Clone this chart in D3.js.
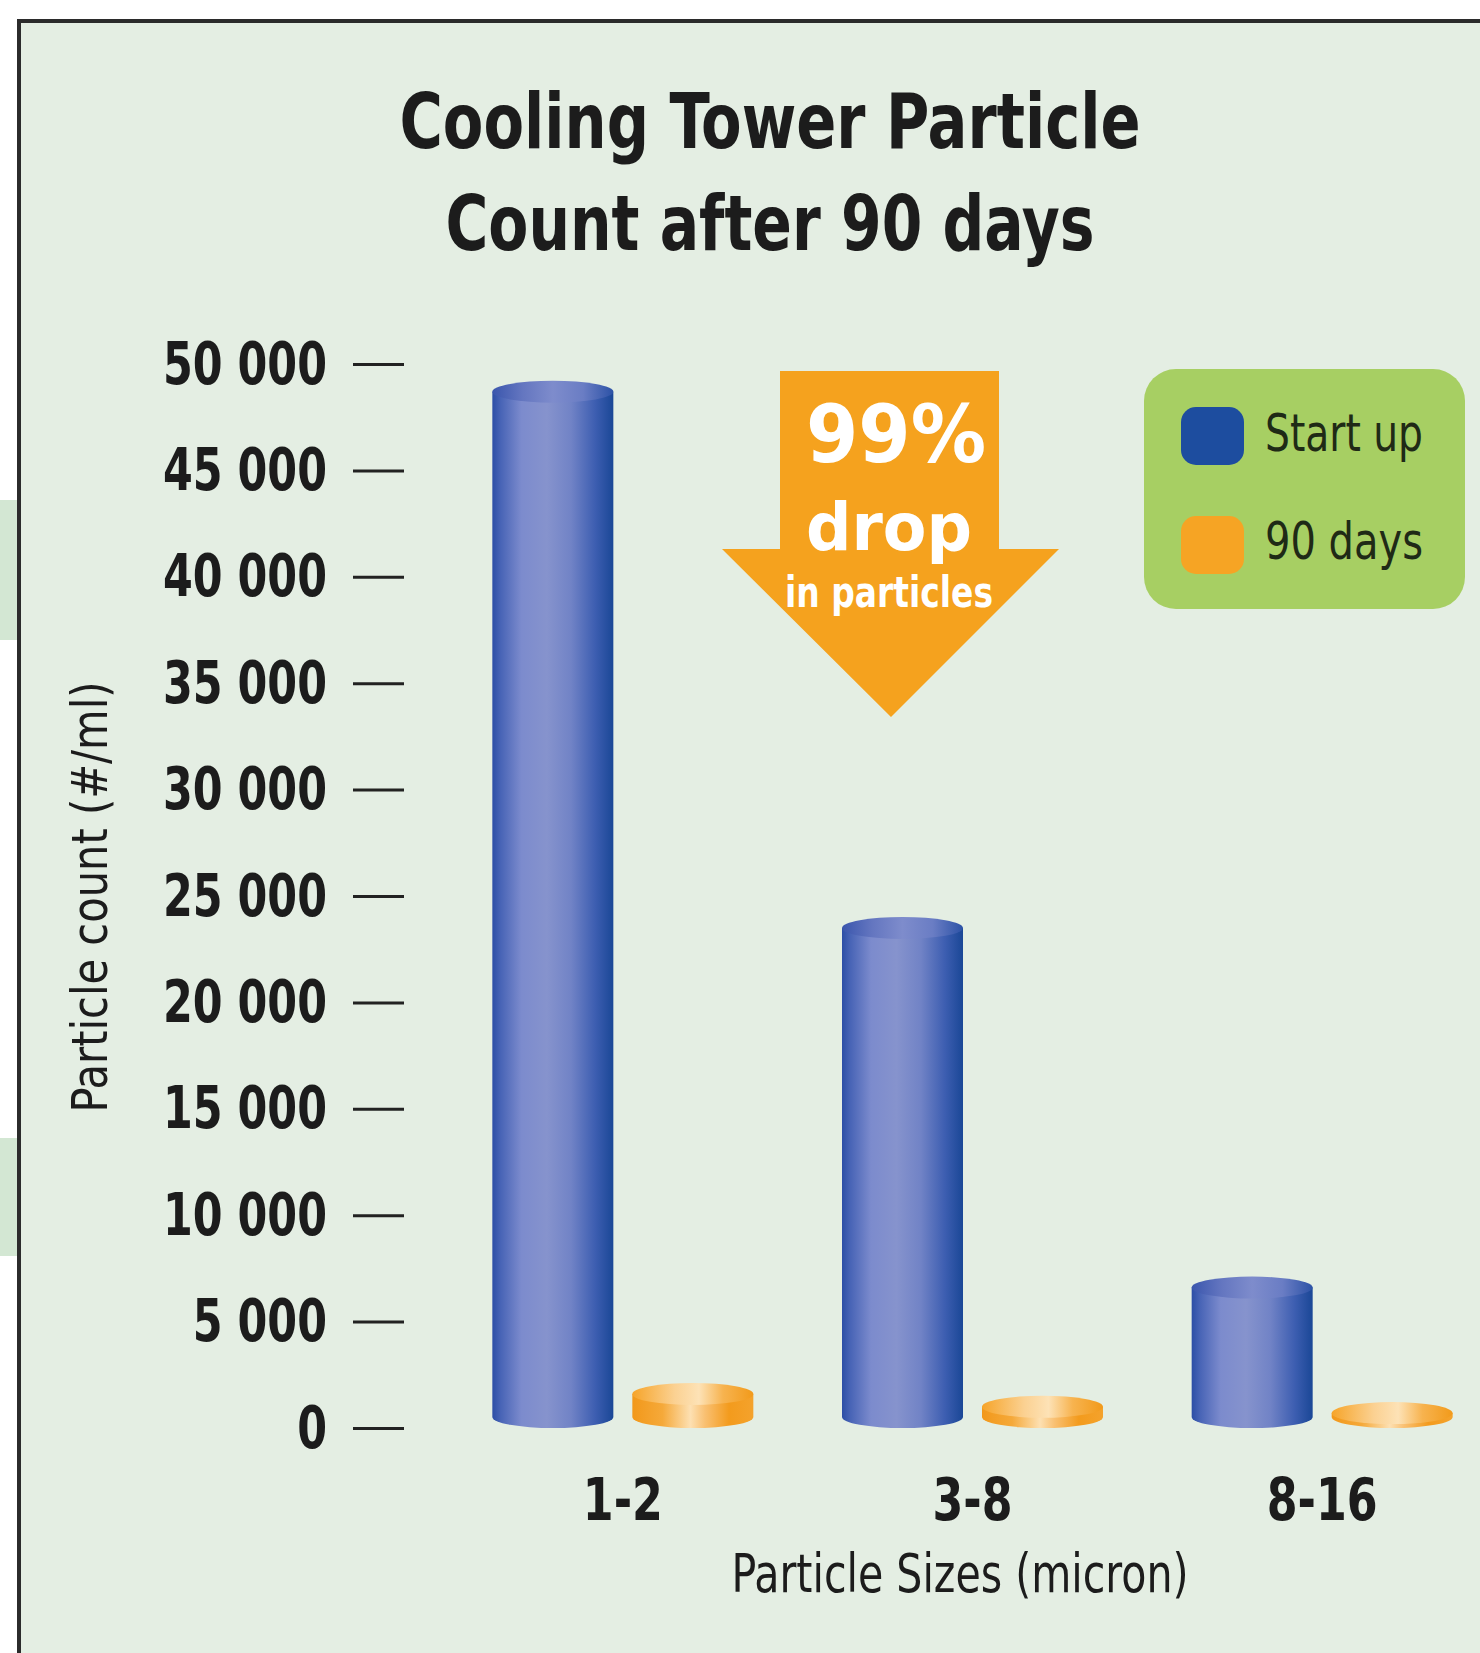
<!DOCTYPE html>
<html>
<head>
<meta charset="utf-8">
<script src="https://cdn.jsdelivr.net/npm/d3@7"></script>
<style>
  html, body { margin: 0; padding: 0; background: #ffffff; }
  svg { display: block; }
  .cond { font-family: "Liberation Sans Narrow", "DejaVu Sans Condensed", "Roboto Condensed", sans-serif; font-stretch: condensed; }
</style>
</head>
<body>
<script>
// ---- data ----
const categories = ["1-2", "3-8", "8-16"];
const seriesNames = ["Start up", "90 days"];
const startUpValues = [48700, 23500, 6600];
const ninetyDayValues = [1600, 1000, 700];
const yTickValues = [0, 5000, 10000, 15000, 20000, 25000, 30000, 35000, 40000, 45000, 50000];
const titleLines = ["Cooling Tower Particle", "Count after 90 days"];
const yAxisTitle = "Particle count (#/ml)";
const xAxisTitle = "Particle Sizes (micron)";
const calloutLines = ["99%", "drop", "in particles"];

const W = 1480, H = 1653;
const svg = d3.select("body").append("svg").attr("width", W).attr("height", H);
const defs = svg.append("defs");

function grad(id, stops) {
  const g = defs.append("linearGradient").attr("id", id).attr("x1", "0%").attr("x2", "100%").attr("y1", "0%").attr("y2", "0%");
  stops.forEach(s => g.append("stop").attr("offset", s[0]).attr("stop-color", s[1]));
}
grad("blueBody", [["0%", "#2c4ea6"], ["7%", "#4864b6"], ["24%", "#7c8bcd"], ["45%", "#8693cd"], ["65%", "#7183c6"], ["85%", "#3d5eb1"], ["100%", "#1a4796"]]);
grad("blueTop", [["0%", "#3a56ad"], ["25%", "#6476c0"], ["50%", "#7e8ccc"], ["75%", "#6a7dc4"], ["100%", "#2c52a6"]]);
grad("orangeBody", [["0%", "#f2981a"], ["25%", "#f5a93a"], ["48%", "#fde0b2"], ["60%", "#f9c072"], ["80%", "#f39b1d"], ["100%", "#f4a22c"]]);
grad("orangeTop", [["0%", "#f6a429"], ["35%", "#fbd192"], ["55%", "#fde2b6"], ["75%", "#f7b34f"], ["100%", "#f29a1a"]]);

// page background and frame
svg.append("rect").attr("x", 0).attr("y", 0).attr("width", W).attr("height", H).attr("fill", "#ffffff");
svg.append("rect").attr("x", 0).attr("y", 500).attr("width", 17).attr("height", 140).attr("fill", "#d3e7d3");
svg.append("rect").attr("x", 0).attr("y", 1138).attr("width", 17).attr("height", 118).attr("fill", "#d3e7d3");
svg.append("rect").attr("x", 19).attr("y", 21).attr("width", W - 19).attr("height", H - 21).attr("fill", "#e4eee3");
svg.append("line").attr("x1", 17).attr("x2", W).attr("y1", 21).attr("y2", 21).attr("stroke", "#2b2b2b").attr("stroke-width", 4);
svg.append("line").attr("x1", 19).attr("x2", 19).attr("y1", 19).attr("y2", H).attr("stroke", "#2b2b2b").attr("stroke-width", 4);

function fit(sel, w) { sel.attr("textLength", w).attr("lengthAdjust", "spacingAndGlyphs"); }

// title
const titleBaselines = [148, 250];
const titleWidths = [741, 649];
titleLines.forEach((t, i) => {
  svg.append("text").attr("class", "cond").attr("x", 770).attr("y", titleBaselines[i])
    .attr("text-anchor", "middle").attr("font-size", 76).attr("font-weight", "bold")
    .attr("fill", "#1c1c1c").text(t).call(fit, titleWidths[i]);
});

// scales
const y = d3.scaleLinear().domain([0, 50000]).range([1428, 364]);
const x0 = d3.scaleBand().domain(categories).range([448, 1497]).paddingInner(0).paddingOuter(0);
const x1 = d3.scaleBand().domain(seriesNames).range([0, x0.bandwidth()]).paddingInner(0.1357).paddingOuter(0.3167);

// y axis
const locale = d3.formatLocale({ decimal: ".", thousands: " ", grouping: [3], currency: ["", ""] });
const fmt = locale.format(",");
const yAxisG = svg.append("g").attr("transform", "translate(404,0)")
  .call(d3.axisLeft(y).tickValues(yTickValues).tickSize(51).tickPadding(26).tickFormat(fmt));
yAxisG.select(".domain").remove();
yAxisG.selectAll(".tick line").attr("stroke", "#222").attr("stroke-width", 3);
yAxisG.selectAll(".tick text").attr("class", "cond").attr("font-size", 58).attr("font-weight", "bold")
  .attr("fill", "#1c1c1c").attr("dy", "0.33em").style("font-family", null);
{
  const texts = yAxisG.selectAll(".tick text");
  const refNode = texts.filter(d => d === 50000).node();
  const f = 164 / refNode.getComputedTextLength();
  texts.each(function () { fit(d3.select(this), this.getComputedTextLength() * f); });
}

// y axis title
svg.append("text").attr("class", "cond").attr("transform", "translate(107,897) rotate(-90)")
  .attr("text-anchor", "middle").attr("font-size", 50).attr("fill", "#1c1c1c")
  .text(yAxisTitle).call(fit, 431);

// x axis (category labels)
const xAxisG = svg.append("g").attr("transform", `translate(0,${y(0)})`)
  .call(d3.axisBottom(x0).tickSize(0).tickPadding(51));
xAxisG.select(".domain").remove();
xAxisG.selectAll(".tick text").attr("class", "cond").attr("font-size", 58).attr("font-weight", "bold").attr("fill", "#1c1c1c");
{
  const texts = xAxisG.selectAll(".tick text");
  const refNode = texts.filter(d => d === "8-16").node();
  const f = 111 / refNode.getComputedTextLength();
  texts.each(function () { fit(d3.select(this), this.getComputedTextLength() * f); });
}

svg.append("text").attr("class", "cond").attr("x", 960).attr("y", 1592).attr("text-anchor", "middle")
  .attr("font-size", 54).attr("fill", "#1c1c1c").text(xAxisTitle).call(fit, 457);

// cylinders
const ry = 11;
const barData = [];
categories.forEach((c, i) => {
  barData.push({ cat: c, series: seriesNames[0], value: startUpValues[i] });
  barData.push({ cat: c, series: seriesNames[1], value: ninetyDayValues[i] });
});
const bars = svg.append("g").selectAll("g.cyl").data(barData).join("g").attr("class", "cyl");
bars.each(function (d) {
  const g = d3.select(this);
  const xl = x0(d.cat) + x1(d.series);
  const w = x1.bandwidth();
  const rx = w / 2;
  const yTop = y(d.value);
  const yBot = y(0) - ry;
  const isBlue = d.series === seriesNames[0];
  g.append("path")
    .attr("d", `M${xl},${yTop} L${xl},${yBot} A${rx},${ry} 0 0 0 ${xl + w},${yBot} L${xl + w},${yTop} Z`)
    .attr("fill", isBlue ? "url(#blueBody)" : "url(#orangeBody)");
  g.append("ellipse").attr("cx", xl + rx).attr("cy", yTop).attr("rx", rx).attr("ry", ry)
    .attr("fill", isBlue ? "url(#blueTop)" : "url(#orangeTop)");
});

// callout arrow
const arrowPts = [[780, 371], [999, 371], [999, 549], [1059, 549], [891, 717], [722, 549], [780, 549]];
svg.append("polygon").attr("points", arrowPts.map(p => p.join(",")).join(" ")).attr("fill", "#f5a21e");
const callout = [
  { x: 896, y: 462, size: 80, w: 180 },
  { x: 889, y: 550, size: 66, w: 166 },
  { x: 889, y: 607, size: 42, w: 208 }
];
calloutLines.forEach((t, i) => {
  const c = callout[i];
  svg.append("text").attr("class", "cond").attr("x", c.x).attr("y", c.y).attr("text-anchor", "middle")
    .attr("font-size", c.size).attr("font-weight", "bold").attr("fill", "#ffffff").text(t).call(fit, c.w);
});

// legend
const lg = svg.append("g");
lg.append("rect").attr("x", 1144).attr("y", 369).attr("width", 321).attr("height", 240).attr("rx", 32).attr("fill", "#a7cf63");
const legendColors = ["#1d4d9f", "#f6a424"];
const swatchY = [407, 516];
const textY = [451, 559];
seriesNames.forEach((s, i) => {
  lg.append("rect").attr("x", 1181).attr("y", swatchY[i]).attr("width", 63).attr("height", 58).attr("rx", 15).attr("fill", legendColors[i]);
  lg.append("text").attr("class", "cond").attr("x", 1265).attr("y", textY[i]).attr("font-size", 51)
    .attr("fill", "#1f2a16").text(s).call(fit, 158);
});
</script>
</body>
</html>
